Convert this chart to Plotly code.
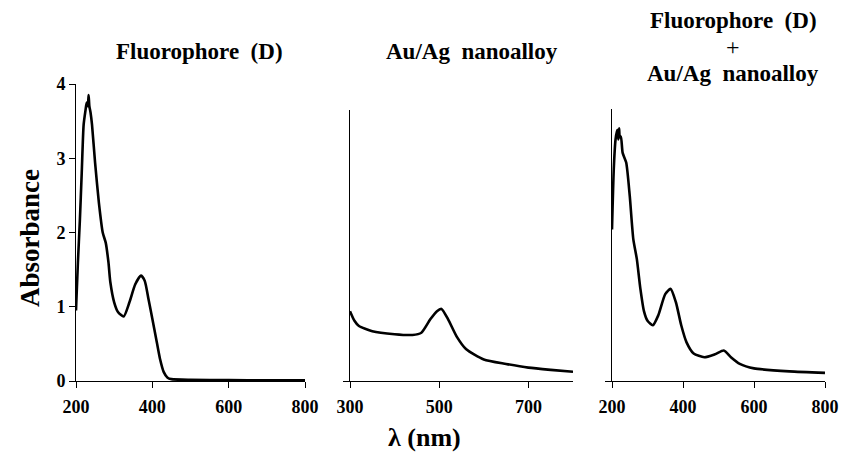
import plotly.graph_objects as go

# Absorption spectra (wavelength in nm, absorbance)
dye_wl = [200, 205, 210, 215, 220, 225, 228, 231, 233, 235, 238, 242, 250, 260, 270, 278,
          285, 290, 300, 310, 325, 340, 355, 370, 380, 390, 400, 410, 420, 430, 440,
          450, 500, 600, 700, 800]
dye_abs = [0.95, 1.6, 2.15, 2.8, 3.45, 3.65, 3.75, 3.7, 3.85, 3.7, 3.62, 3.45, 2.94, 2.4,
           2.0, 1.86, 1.6, 1.33, 1.06, 0.93, 0.87, 1.06, 1.3, 1.42, 1.35, 1.1, 0.84, 0.57,
           0.3, 0.12, 0.045, 0.025, 0.015, 0.012, 0.01, 0.01]

np_wl = [300, 310, 320, 350, 400, 440, 460, 480, 495, 505, 520, 540, 560, 600, 650, 700,
         750, 800]
np_abs = [0.94, 0.81, 0.74, 0.67, 0.63, 0.62, 0.65, 0.83, 0.94, 0.97, 0.83, 0.59, 0.43,
          0.29, 0.23, 0.18, 0.15, 0.125]

mix_wl = [200, 205, 210, 215, 218, 220, 222, 225, 230, 240, 250, 260, 270, 280, 290, 300,
          315, 330, 350, 365, 380, 395, 410, 430, 460, 490, 515, 535, 560, 600, 700, 800]
mix_abs = [2.04, 2.85, 3.25, 3.38, 3.25, 3.4, 3.28, 3.29, 3.07, 2.94, 2.49, 1.91, 1.64,
           1.24, 0.94, 0.81, 0.75, 0.88, 1.17, 1.24, 1.06, 0.75, 0.52, 0.37, 0.32, 0.36,
           0.41, 0.32, 0.23, 0.17, 0.13, 0.11]

panel_titles = ["Fluorophore  (D)", "Au/Ag  nanoalloy"]
mix_title_lines = ["Fluorophore  (D)", "+", "Au/Ag  nanoalloy"]
y_title = "Absorbance"
x_title = "λ (nm)"

SERIF = "Liberation Serif"
W, H = 841, 459

fig = go.Figure()
line = dict(color="black", width=2.6, shape="spline", smoothing=0.6)
fig.add_trace(go.Scatter(x=dye_wl, y=dye_abs, mode="lines", line=line,
                         xaxis="x", yaxis="y", showlegend=False))
fig.add_trace(go.Scatter(x=np_wl, y=np_abs, mode="lines", line=line,
                         xaxis="x2", yaxis="y2", showlegend=False))
fig.add_trace(go.Scatter(x=mix_wl, y=mix_abs, mode="lines", line=line,
                         xaxis="x3", yaxis="y3", showlegend=False))

tick_font = dict(family=SERIF, size=18, color="black", weight="bold")

def px_x(p):
    return p / W

def px_y(p):
    return (H - p) / H

y_bottom = px_y(381)
common_x = dict(showline=True, linecolor="black", linewidth=1, ticks="outside",
                ticklen=6, tickcolor="black", tickwidth=1, showgrid=False,
                zeroline=False, tickfont=tick_font, automargin=False,
                ticklabelstandoff=3)
common_y = dict(showline=True, linecolor="black", linewidth=1, ticks="outside",
                ticklen=6, tickcolor="black", tickwidth=1, showgrid=False,
                zeroline=False, tickfont=tick_font, automargin=False)

fig.update_layout(
    width=W, height=H,
    margin=dict(l=0, r=0, t=0, b=0, autoexpand=False),
    paper_bgcolor="white", plot_bgcolor="white",
    xaxis=dict(common_x, domain=[px_x(76), px_x(305)], range=[200, 800],
               tickvals=[200, 400, 600, 800], anchor="y"),
    yaxis=dict(common_y, domain=[y_bottom, px_y(84)], range=[0, 4],
               tickvals=[0, 1, 2, 3, 4], anchor="x"),
    xaxis2=dict(common_x, domain=[px_x(350), px_x(573)], range=[300, 800],
                tickvals=[300, 500, 700], anchor="y2"),
    yaxis2=dict(common_y, domain=[y_bottom, px_y(110)], range=[0, 271 / 74.3],
                tickvals=[0], showticklabels=False, anchor="x2"),
    xaxis3=dict(common_x, domain=[px_x(612), px_x(825)], range=[200, 800],
                tickvals=[200, 400, 600, 800], anchor="y3"),
    yaxis3=dict(common_y, domain=[y_bottom, px_y(109)], range=[0, 272 / 74.3],
                tickvals=[0], showticklabels=False, anchor="x3"),
)

title_font = dict(family=SERIF, size=23, color="black", weight="bold")
plus_font = dict(family=SERIF, size=24, color="black", weight="normal")
label_kw = dict(xref="paper", yref="paper", showarrow=False,
                xanchor="center", yanchor="middle")
fig.add_annotation(text=panel_titles[0], x=px_x(199), y=px_y(51), font=title_font,
                   **label_kw)
fig.add_annotation(text=panel_titles[1], x=px_x(472), y=px_y(51), font=title_font,
                   **label_kw)
for text, ypix in zip(mix_title_lines, [21, 47, 73]):
    fig.add_annotation(text=text, x=px_x(733), y=px_y(ypix),
                       font=plus_font if text == "+" else title_font, **label_kw)

fig.add_annotation(text=y_title, x=px_x(30), y=px_y(238), textangle=-90,
                   font=dict(family=SERIF, size=27, color="black", weight="bold"),
                   **label_kw)
fig.add_annotation(text=x_title, x=px_x(425), y=px_y(437),
                   font=dict(family=SERIF, size=26, color="black", weight="bold"),
                   **label_kw)

fig.write_html("out.html")
